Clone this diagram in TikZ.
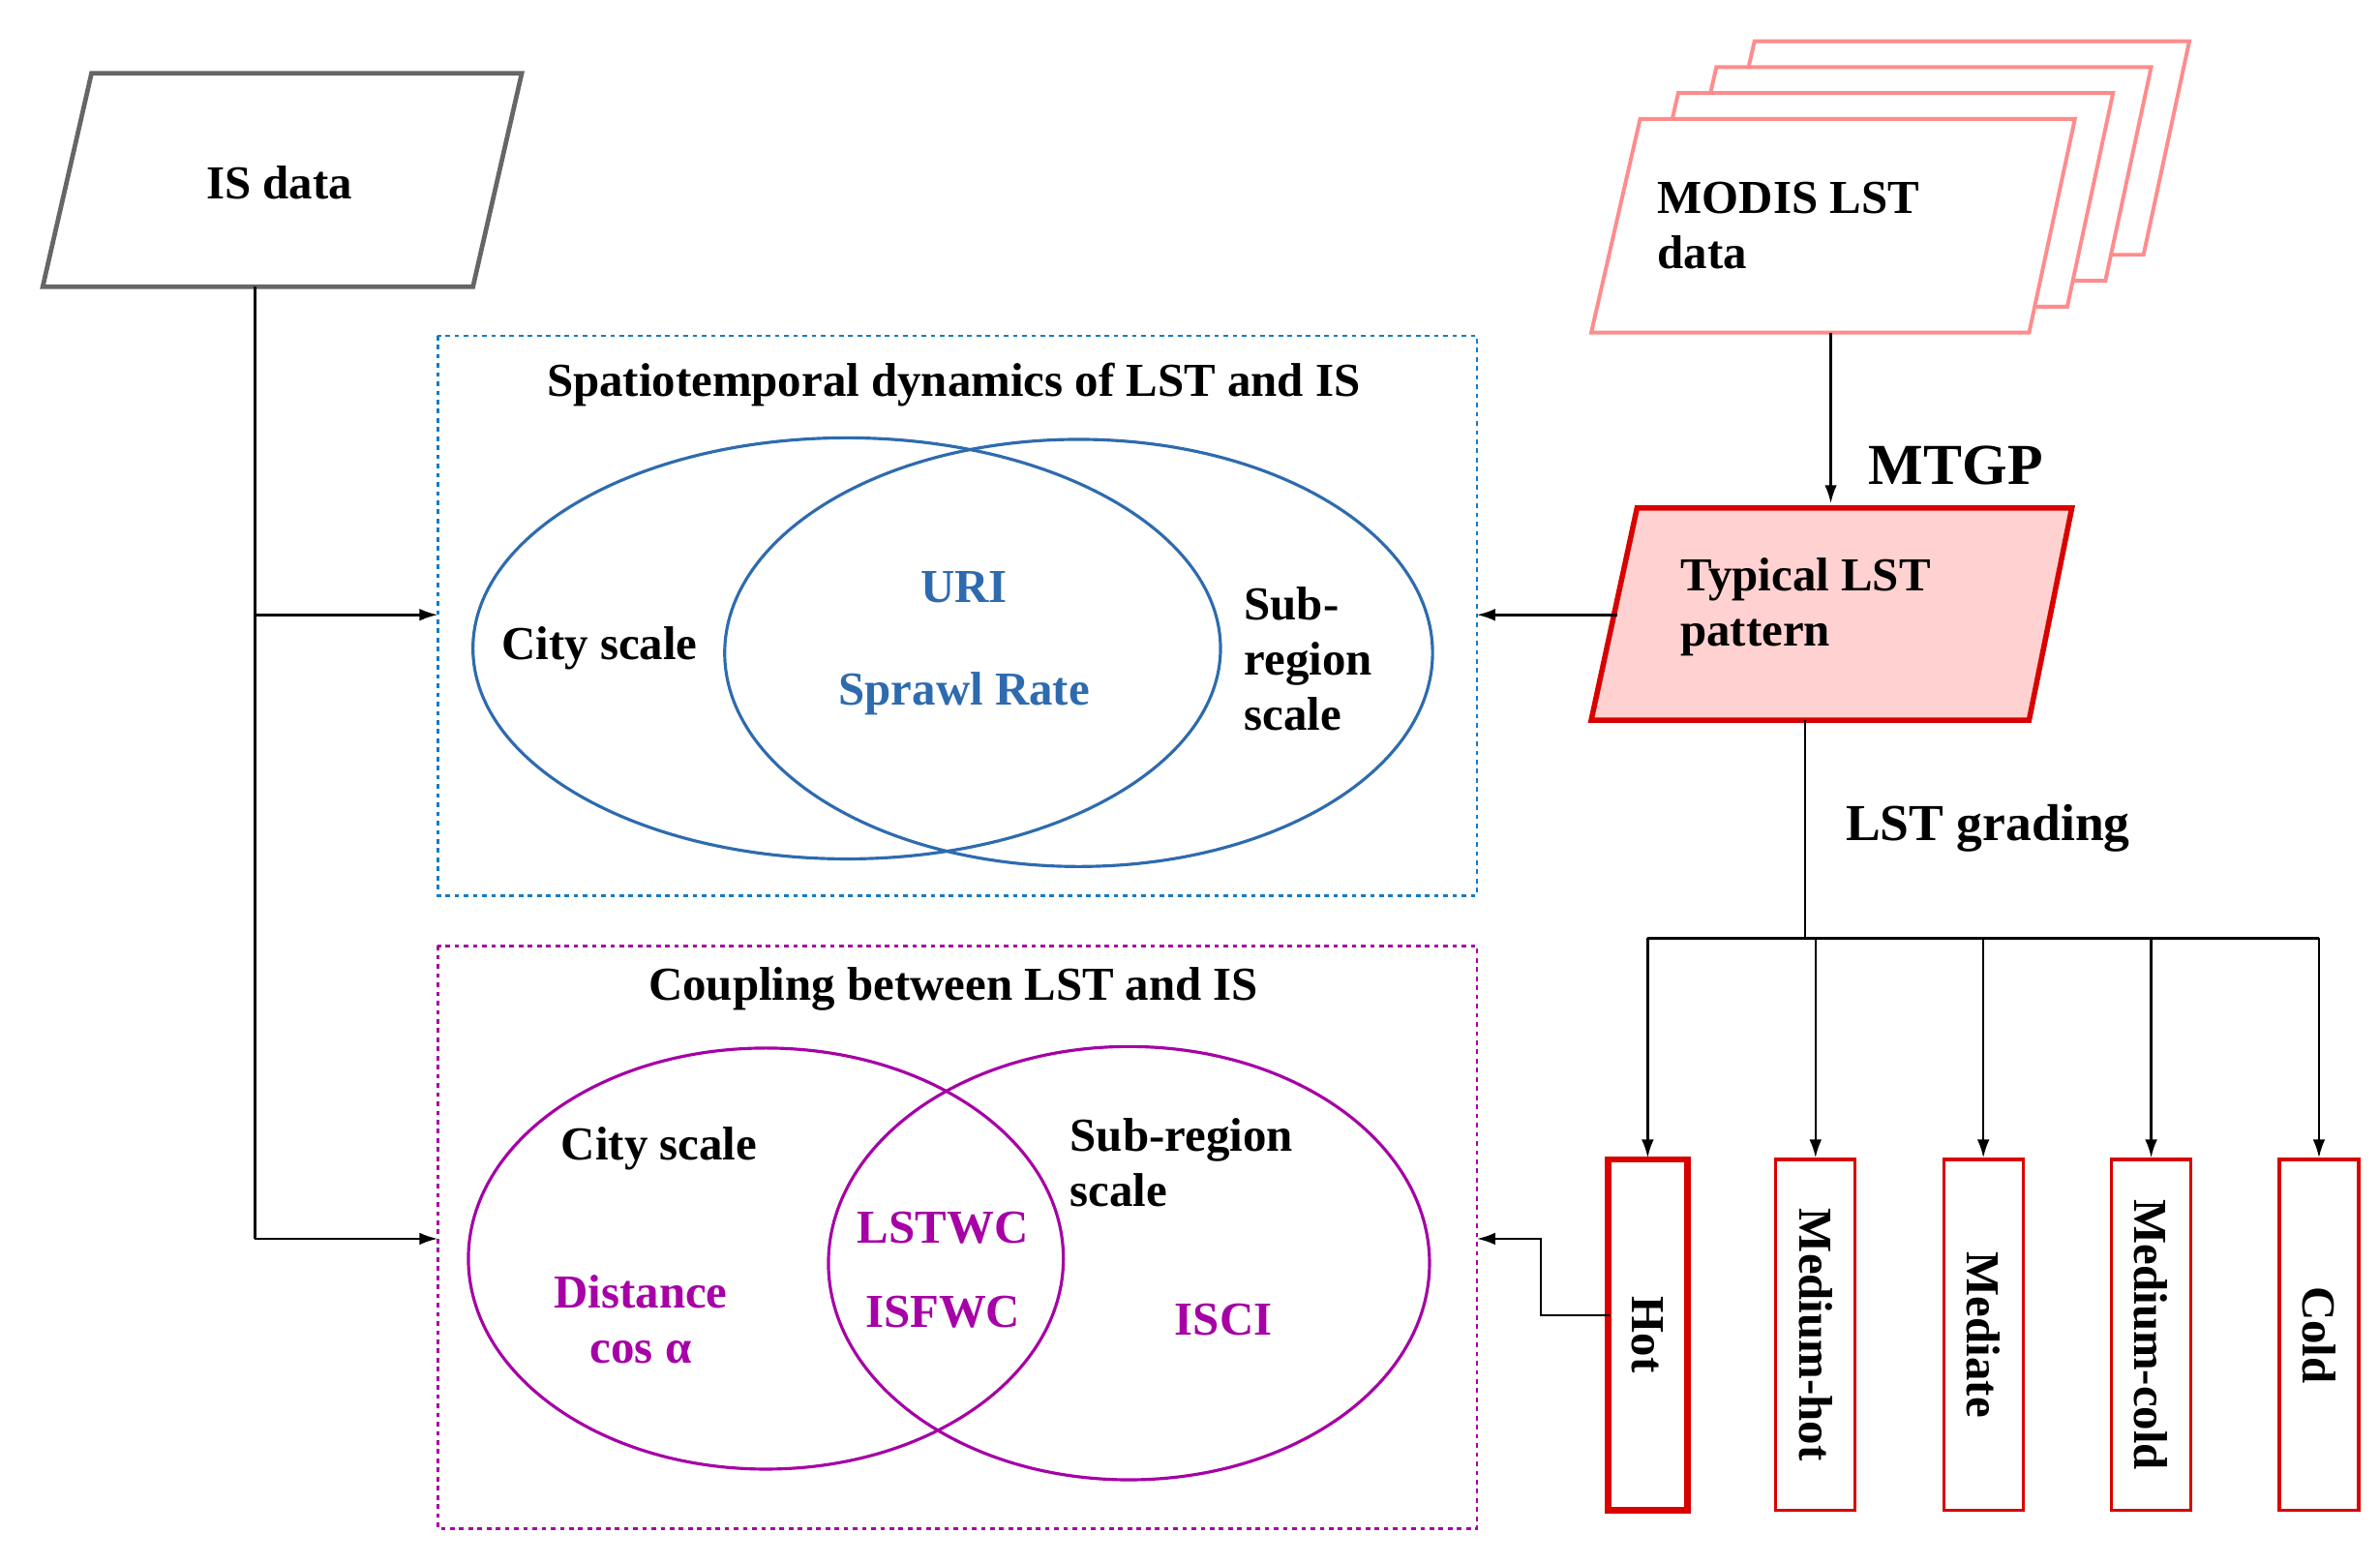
\documentclass[tikz,border=0pt]{standalone}
\usetikzlibrary{arrows.meta}
\usepackage{fontspec}
\setmainfont{Liberation Serif}
\begin{document}
\begin{tikzpicture}[x=1pt,y=-1pt,
  lbl/.style={font=\fontsize{31}{36}\selectfont\bfseries},
  arr/.style={-{Latex[length=12pt,width=8pt]},line width=1.6pt},
  ln/.style={line width=1.6pt},
  grade/.style={draw=red!85!black,line width=2pt,minimum width=52pt,minimum height=230pt,inner sep=0pt}]
\useasboundingbox (0,0) rectangle (1560,1025);
% IS data
\draw[line width=3pt,gray!80!black] (28,188)--(310,188)--(342,48)--(60,48)--cycle;
\node[lbl] (is) at (183,120) {IS data};
% MODIS stack
\foreach \d in {3,2,1}{
 \draw[line width=2.5pt,red!45,fill=white] (1043+25*\d,218-17*\d)--(1330+25*\d,218-17*\d)--(1360+25*\d,78-17*\d)--(1075+25*\d,78-17*\d)--cycle;}
\draw[line width=2.5pt,red!45,fill=white] (1043,218)--(1330,218)--(1360,78)--(1075,78)--cycle;
\node[lbl,align=left,anchor=west] (modis) at (1083,148) {MODIS LST\\data};
% typical
\draw[line width=3.5pt,red!85!black,fill=red!18] (1043,472)--(1330,472)--(1358,333)--(1073,333)--cycle;
\node[lbl,align=left,anchor=west] (typ) at (1098,398) {Typical LST\\pattern};
\coordinate (m1) at (1200,218); \coordinate (m2) at (1200,330);
\draw[arr] (m1)--(m2);
\node[font=\fontsize{38}{42}\selectfont\bfseries] (mtgp) at (1282,305) {MTGP};
\coordinate (t1) at (1183,472); \coordinate (t2) at (1183,615);
\draw[ln] (t1)--(t2);
\node[lbl,font=\fontsize{34}{40}\selectfont\bfseries] (grd) at (1303,543) {LST grading};
\coordinate (hl) at (1080,615); \coordinate (hr) at (1520,615);
\draw[ln] (hl)--(hr);
\foreach \x/\t/\n in {1080/Hot/g1,1190/Medium-hot/g2,1300/Mediate/g3,1410/Medium-cold/g4,1520/Cold/g5}{
  \node[grade] (\n) at (\x,875) {};
  \node[lbl,rotate=-90] at (\x,875) {\t};
  \coordinate (\n t) at (\x,615);
  \draw[arr] (\n t)--(\n.north);}
\node[grade,line width=4pt] at (1080,875) {};
% blue box
\draw[dashed,line width=1.6pt,cyan!60!blue] (287,220) rectangle (968,587);
\node[lbl] (t1l) at (625,252) {Spatiotemporal dynamics of LST and IS};
\draw[line width=2pt,cyan!50!blue!85!black] (555,425) ellipse [x radius=245,y radius=138];
\draw[line width=2pt,cyan!50!blue!85!black] (707,428) ellipse [x radius=232,y radius=140];
\node[lbl] at (393,425) {City scale};
\node[lbl,text=cyan!50!blue!85!black] at (632,385) {URI};
\node[lbl,text=cyan!50!blue!85!black] at (632,455) {Sprawl Rate};
\node[lbl,align=left,anchor=west] at (812,432) {Sub-\\region\\scale};
% purple box
\draw[dashed,line width=1.6pt,violet!70!magenta] (287,620) rectangle (968,1002);
\node[lbl] at (625,648) {Coupling between LST and IS};
\draw[line width=2pt,violet!70!magenta] (502,825) ellipse [x radius=195,y radius=138];
\draw[line width=2pt,violet!70!magenta] (740,828) ellipse [x radius=197,y radius=142];
\node[lbl] at (432,753) {City scale};
\node[lbl,text=violet!70!magenta,align=center] at (420,865) {Distance\\cos α};
\node[lbl,text=violet!70!magenta] at (618,805) {LSTWC};
\node[lbl,text=violet!70!magenta] at (618,860) {ISFWC};
\node[lbl,align=left,anchor=west] at (698,762) {Sub-region\\scale};
\node[lbl,text=violet!70!magenta] at (802,865) {ISCI};
% connectors
\coordinate (bx) at (968,403); \coordinate (tl) at (1060,403);
\draw[arr] (tl)--(bx);
\coordinate (px) at (968,812);
\draw[arr] (1055,862)--(1010,862)--(1010,812)--(px);
\coordinate (i1) at (167,188); \coordinate (i2) at (167,812);
\draw[ln] (i1)--(i2);
\draw[arr] (167,403)--(287,403);
\draw[arr] (i2)--(287,812);
\end{tikzpicture}
\end{document}
